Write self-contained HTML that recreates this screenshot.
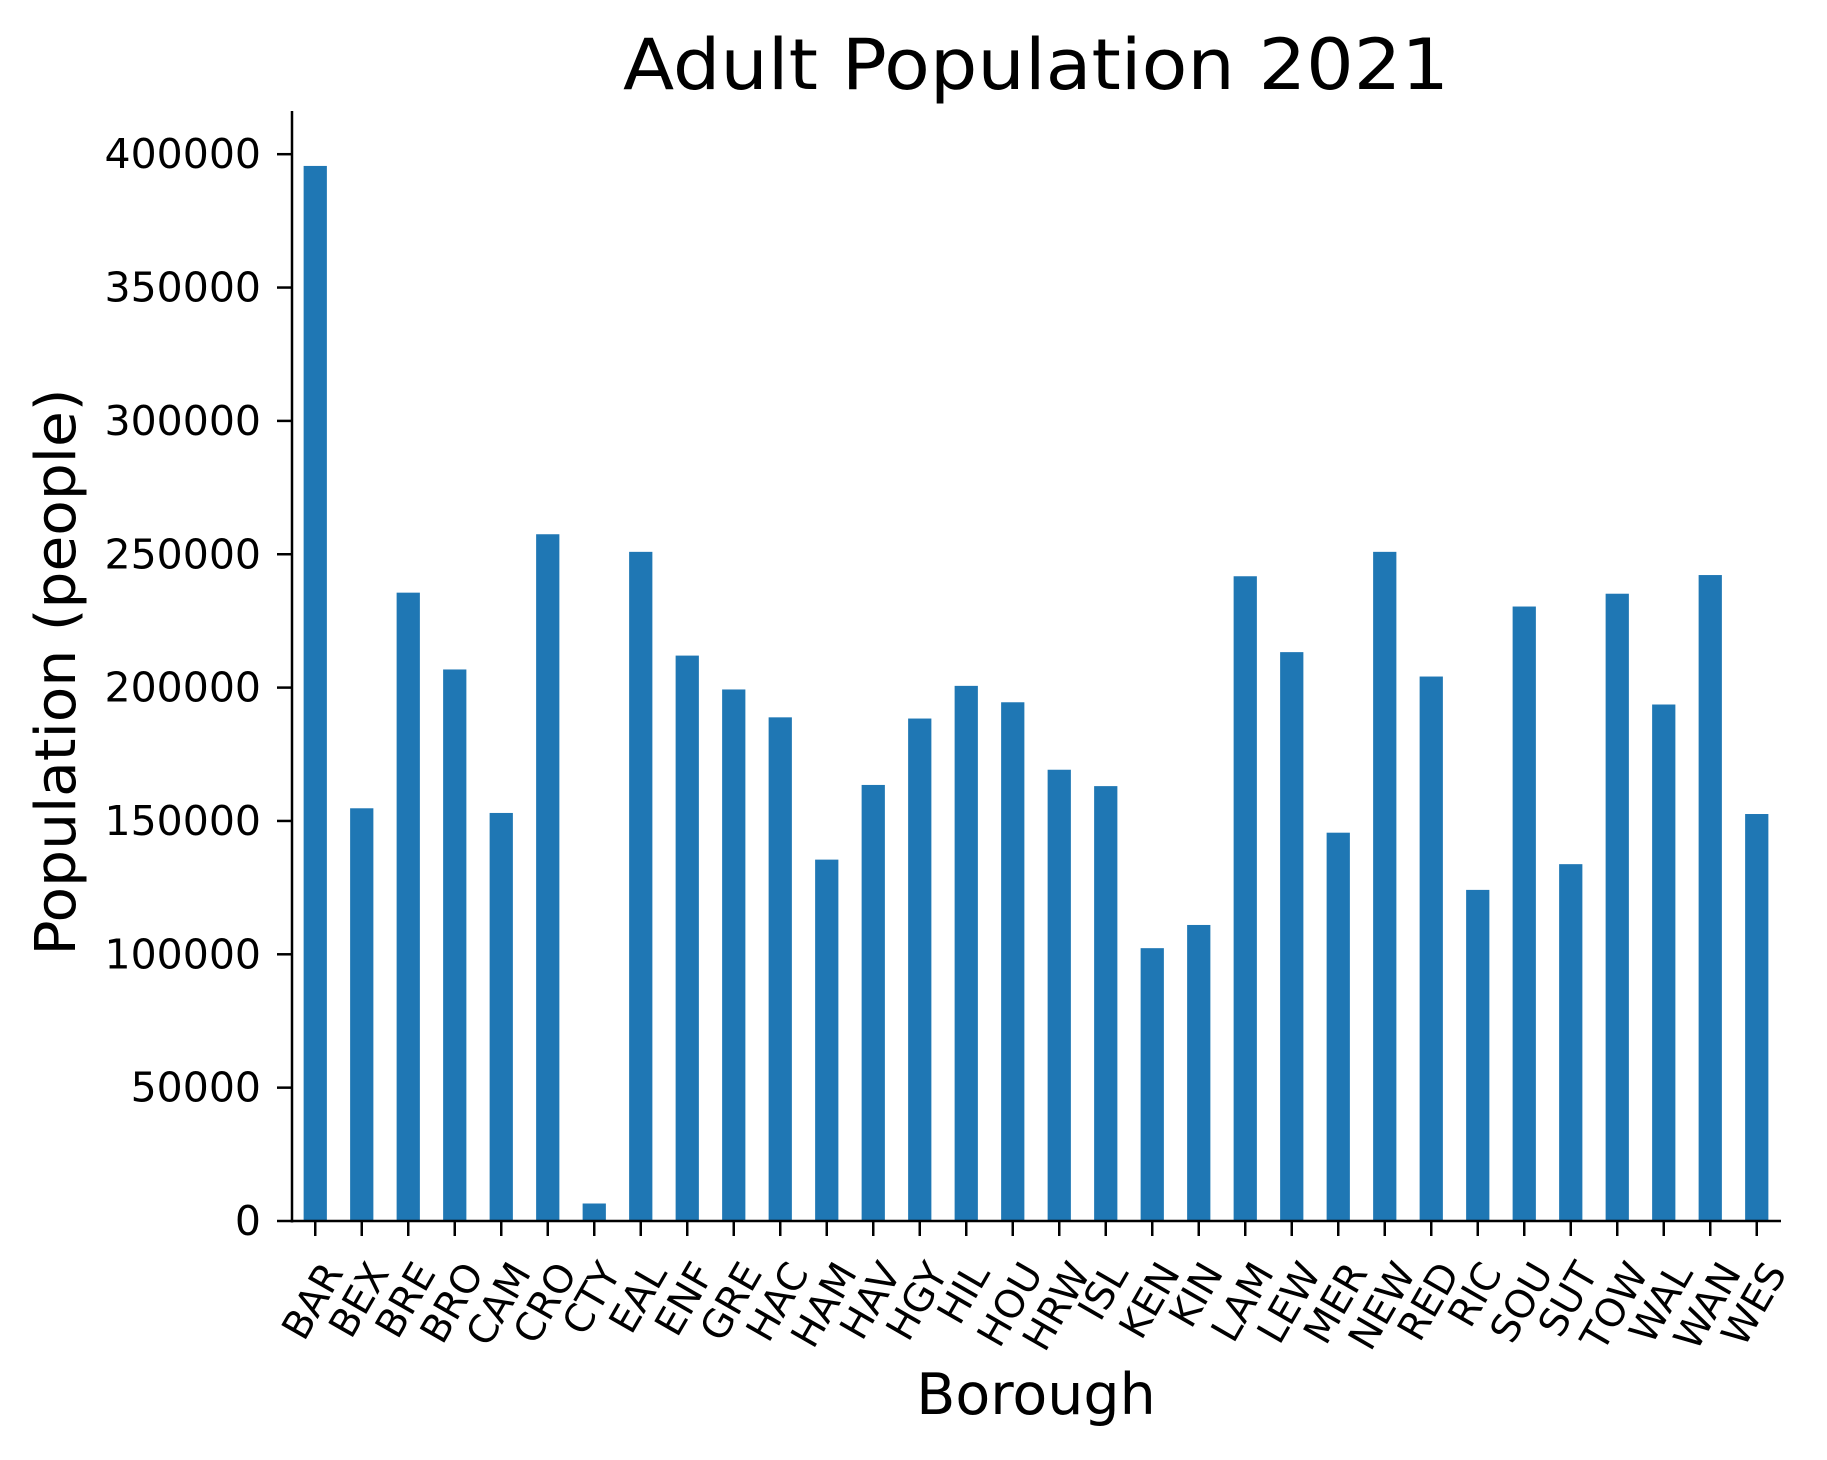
<!DOCTYPE html>
<html><head><meta charset="utf-8"><style>
html,body{margin:0;padding:0;background:#fff;}
svg{display:block;font-family:"DejaVu Sans","Liberation Sans",sans-serif;}
</style></head>
<body>
<svg id="chart" width="1827" height="1460" viewBox="0 0 1827 1460" xmlns="http://www.w3.org/2000/svg">
<rect width="1827" height="1460" fill="#fff"/>
<text x="1036" y="89" font-size="70" text-anchor="middle" textLength="826" lengthAdjust="spacingAndGlyphs">Adult Population 2021</text>
<text transform="translate(75,672) rotate(-90)" font-size="56" text-anchor="middle" textLength="567" lengthAdjust="spacingAndGlyphs">Population (people)</text>
<text x="1036" y="1414" font-size="57" text-anchor="middle">Borough</text>
<g id="bars"></g>
<g id="yticks"></g>
<g id="xticks"></g>
<line x1="292" y1="111" x2="292" y2="1222.5" stroke="#000" stroke-width="2.5"/>
<line x1="290.8" y1="1221" x2="1781" y2="1221" stroke="#000" stroke-width="2.5"/>
</svg>
<script>
const categories = ["BAR","BEX","BRE","BRO","CAM","CRO","CTY","EAL","ENF","GRE","HAC","HAM","HAV","HGY","HIL","HOU","HRW","ISL","KEN","KIN","LAM","LEW","MER","NEW","RED","RIC","SOU","SUT","TOW","WAL","WAN","WES"];
const population = [395600,154750,235600,206800,153000,257500,6560,250900,212000,199300,188850,135500,163500,188400,200650,194500,169200,163060,102300,111000,241750,213300,145600,250900,204150,124150,230400,133800,235200,193660,242200,152600];
const yTicks = [0,50000,100000,150000,200000,250000,300000,350000,400000];

const NS = "http://www.w3.org/2000/svg";
const x0 = 292, x1 = 1780, yZero = 1221, yPerUnit = 266.7/100000;
const n = categories.length;
const step = (x1 - x0) / n;
function xScale(i){ return x0 + step * (i + 0.5); }
function yScale(v){ return yZero - v * yPerUnit; }

const barsG = document.getElementById('bars');
const xG = document.getElementById('xticks');
const yG = document.getElementById('yticks');

categories.forEach((c, i) => {
  const cx = xScale(i);
  const r = document.createElementNS(NS, 'rect');
  
  
  r.setAttribute('x', cx - step * 0.25);
  r.setAttribute('width', step * 0.5);
  r.setAttribute('y', yScale(population[i]));
  r.setAttribute('height', yZero - yScale(population[i]));
  r.setAttribute('fill', '#1f77b4');
  barsG.appendChild(r);

  const t = document.createElementNS(NS, 'line');
  
  
  t.setAttribute('x1', cx); t.setAttribute('x2', cx);
  t.setAttribute('y1', yZero); t.setAttribute('y2', yZero + 15);
  t.setAttribute('stroke', '#000'); t.setAttribute('stroke-width', '2.5');
  xG.appendChild(t);

  const lbl = document.createElementNS(NS, 'text');
  
  
  lbl.setAttribute('font-size', '39');
  lbl.setAttribute('text-anchor', 'middle');
  lbl.setAttribute('dominant-baseline', 'central');
  lbl.textContent = c;
  xG.appendChild(lbl);
  const L = lbl.getComputedTextLength();
  const h = 30;
  const H = L * Math.sin(Math.PI/3) + h * Math.cos(Math.PI/3);
  lbl.setAttribute('transform', 'translate(' + (cx - 2) + ',' + (1259 + H/2) + ') rotate(-60)');
});

yTicks.forEach(v => {
  const y = yScale(v);
  const t = document.createElementNS(NS, 'line');
  
  
  t.setAttribute('x1', 277); t.setAttribute('x2', 292);
  t.setAttribute('y1', y); t.setAttribute('y2', y);
  t.setAttribute('stroke', '#000'); t.setAttribute('stroke-width', '2.5');
  yG.appendChild(t);
  const lbl = document.createElementNS(NS, 'text');
  
  
  lbl.setAttribute('x', 261);
  lbl.setAttribute('y', y + 14);
  lbl.setAttribute('font-size', '41');
  lbl.setAttribute('text-anchor', 'end');
  lbl.textContent = String(v);
  yG.appendChild(lbl);
});
</script>
</body></html>
